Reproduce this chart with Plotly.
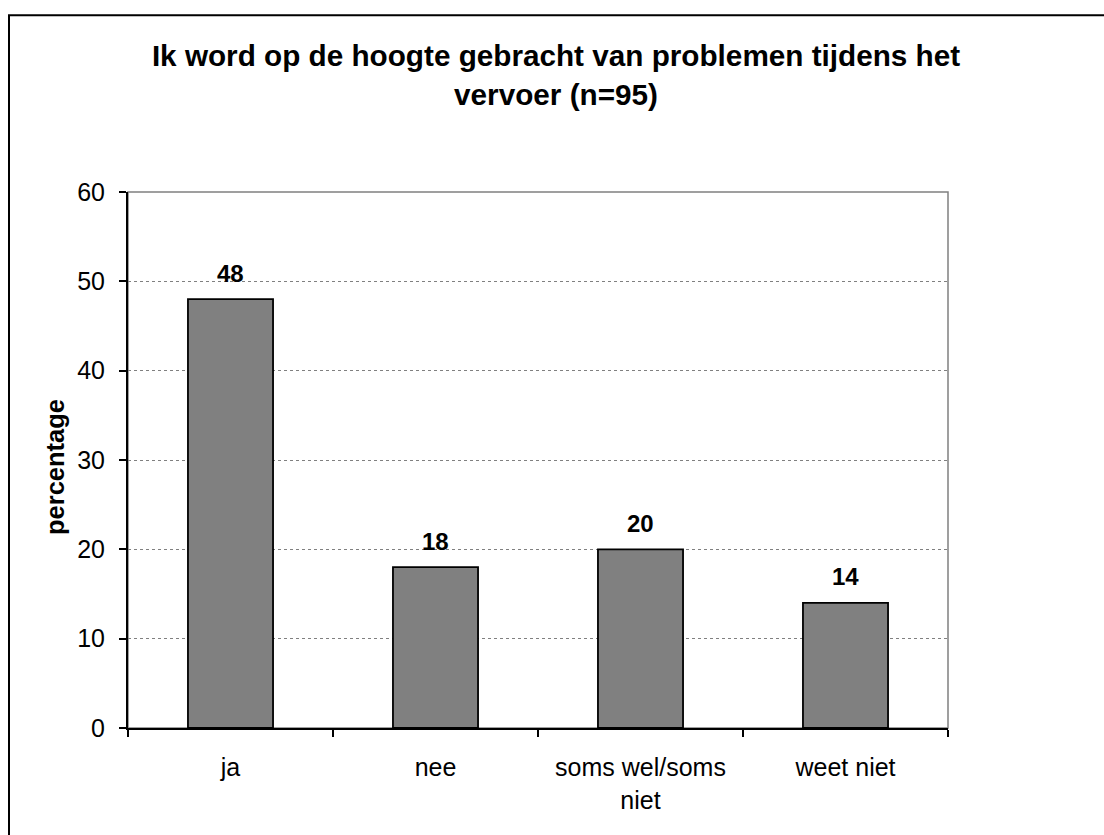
import plotly.graph_objects as go

categories = ["ja", "nee", "soms wel/soms<br>niet", "weet niet"]
values = [48, 18, 20, 14]
y_ticks = [0, 10, 20, 30, 40, 50, 60]

title_text = "Ik word op de hoogte gebracht van problemen tijdens het<br>vervoer (n=95)"
y_title = "percentage"

W, H = 1104, 835
L, R, T, B = 128, 156, 192, 107
pw, ph = W - L - R, H - T - B

FONT = "Liberation Sans, Arial, sans-serif"

fig = go.Figure()
fig.add_trace(go.Bar(
    x=categories, y=values,
    marker=dict(color="#808080", line=dict(color="black", width=1.8)),
    hoverinfo="skip",
))

for c, v in zip(categories, values):
    fig.add_annotation(
        x=c, y=v, xref="x", yref="y", text=f"<b>{v}</b>",
        showarrow=False, yanchor="middle", yshift=26,
        font=dict(family=FONT, size=24, color="black"),
    )


def px_to_paper_x(px):
    return (px - L) / pw


def px_to_paper_y(py):
    return (H - B - py) / ph


# y-axis title
fig.add_annotation(
    x=px_to_paper_x(55), y=px_to_paper_y(467), xref="paper", yref="paper",
    text=f"<b>{y_title}</b>", textangle=-90, showarrow=False,
    xanchor="center", yanchor="middle",
    font=dict(family=FONT, size=25.5, color="black"),
)

# plot-area border (gray) and outer chart border (black)
fig.add_shape(type="rect", xref="paper", yref="paper", x0=0, x1=1, y0=0, y1=1,
              line=dict(color="#808080", width=1.5), layer="below")
fig.add_shape(type="rect", xref="paper", yref="paper",
              x0=px_to_paper_x(9), x1=px_to_paper_x(1120),
              y0=px_to_paper_y(850), y1=px_to_paper_y(15.3),
              line=dict(color="black", width=2), layer="above")

fig.update_layout(
    width=W, height=H,
    margin=dict(l=L, r=R, t=T, b=B, autoexpand=False),
    paper_bgcolor="white", plot_bgcolor="white",
    showlegend=False,
    bargap=0.585,
    font=dict(family=FONT, color="black"),
    title=dict(
        text=f"<b>{title_text}</b>",
        x=px_to_paper_x(556), xanchor="center", xref="paper",
        y=1 - 66 / H, yanchor="middle", yref="container",
        font=dict(family=FONT, size=29.7, color="black"),
    ),
    xaxis=dict(
        type="category",
        showline=True, linecolor="black", linewidth=2,
        ticks="outside", tickson="boundaries", ticklen=7, tickwidth=2, tickcolor="black",
        tickfont=dict(family=FONT, size=25, color="black"),
        showgrid=False, zeroline=False,
        ticklabelstandoff=16,
    ),
    yaxis=dict(
        range=[0, 60], tickvals=y_ticks,
        showline=True, linecolor="black", linewidth=2,
        ticks="outside", ticklen=7, tickwidth=1.5, tickcolor="black",
        tickfont=dict(family=FONT, size=25, color="black"),
        showgrid=True, gridcolor="#808080", gridwidth=1, griddash="dot",
        zeroline=False,
        ticklabelstandoff=9,
    ),
)

fig.write_html("out.html")
